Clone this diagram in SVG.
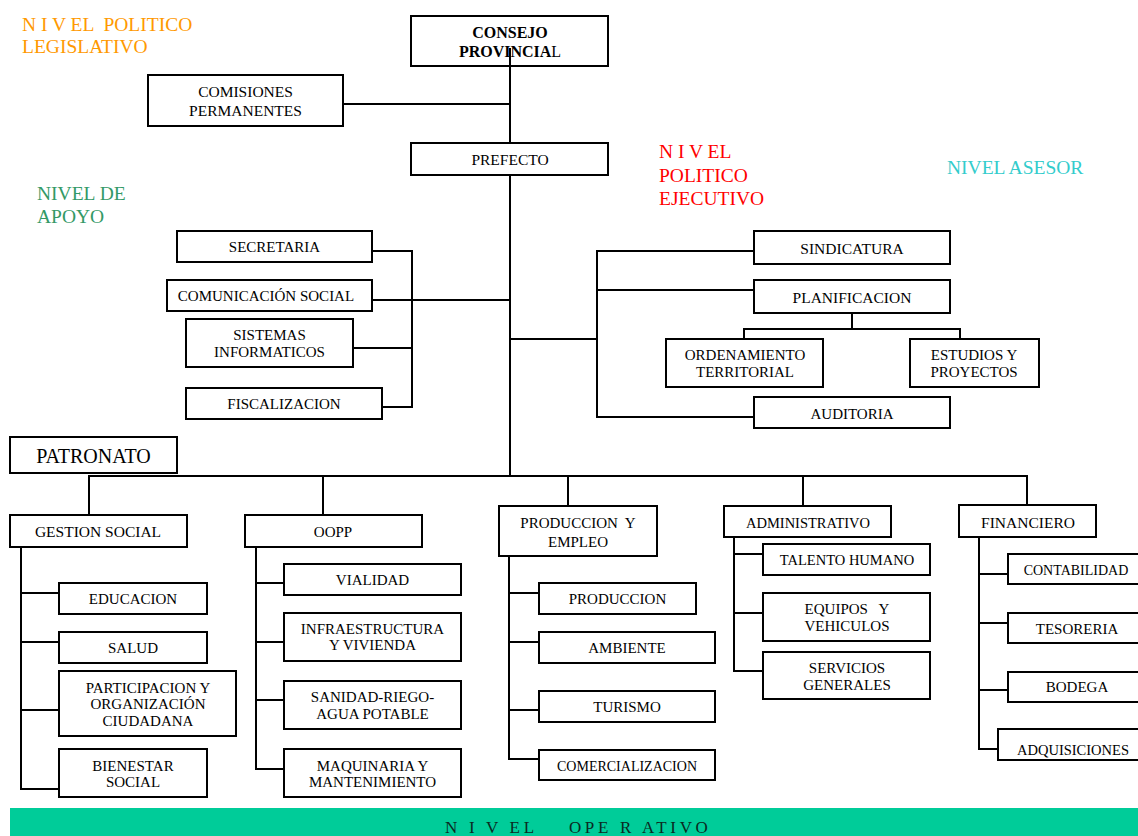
<svg xmlns="http://www.w3.org/2000/svg" width="1138" height="836" viewBox="0 0 1138 836">
<style>
.box{fill:#fff;stroke:#000;stroke-width:2}
.conn{fill:none;stroke:#000;stroke-width:2}
.t{font-family:"Liberation Serif","Times New Roman",serif;font-size:15px;text-anchor:middle;fill:#000}
.lvl{font-family:"Liberation Serif","Times New Roman",serif;font-size:19.5px;white-space:pre}
.pre{white-space:pre}
.s14{font-size:14px}
.s145{font-size:14.5px}
.s155{font-size:15.5px}
.s16{font-size:16px}
.s20{font-size:20px}
</style>
<rect width="1138" height="836" fill="#fff"/>
<g id="levels">
<text class="lvl" x="22" y="31" fill="#FF9900">N I V EL  POLITICO</text>
<text class="lvl" x="22" y="53" fill="#FF9900">LEGISLATIVO</text>
<text class="lvl" x="37" y="200" fill="#339966">NIVEL DE</text>
<text class="lvl" x="37" y="223" fill="#339966">APOYO</text>
<text class="lvl" x="659" y="158" fill="#FF0000">N I V EL</text>
<text class="lvl" x="659" y="182" fill="#FF0000">POLITICO</text>
<text class="lvl" x="659" y="205" fill="#FF0000">EJECUTIVO</text>
<text class="lvl" x="947" y="174" fill="#33CCCC">NIVEL ASESOR</text>
</g>
<g id="band">
<rect x="10" y="808" width="1130" height="28" fill="#00CC99"/>
<text class="lvl" x="445" y="833" fill="#0a2a22" style="font-size:17px;letter-spacing:3.7px">N I V EL    OPE R ATIVO</text>
</g>
<g id="consejo"><rect class="box" x="411" y="16" width="197" height="50"/><text class="t s16" x="510" y="38" font-weight="bold">CONSEJO</text><text class="t s16" x="510" y="57"><tspan font-weight="bold">PROVINCIA</tspan>L</text></g>
<g id="comisiones"><rect class="box" x="148" y="75" width="195" height="51"/><text class="t s155" x="245.5" y="97">COMISIONES</text><text class="t s155" x="245.5" y="116">PERMANENTES</text></g>
<g id="prefecto"><rect class="box" x="411" y="143" width="197" height="32"/><text class="t s155" x="510" y="165">PREFECTO</text></g>
<g id="secretaria"><rect class="box" x="177" y="231" width="195" height="31"/><text class="t" x="274.5" y="252">SECRETARIA</text></g>
<g id="comunicacion"><rect class="box" x="167" y="280" width="205" height="31"/><text class="t" x="266" y="301">COMUNICACIÓN SOCIAL</text></g>
<g id="sistemas"><rect class="box" x="186" y="319" width="167" height="48"/><text class="t" x="269.5" y="340">SISTEMAS</text><text class="t" x="269.5" y="357">INFORMATICOS</text></g>
<g id="fiscalizacion"><rect class="box" x="186" y="388" width="196" height="31"/><text class="t" x="284" y="409">FISCALIZACION</text></g>
<g id="sindicatura"><rect class="box" x="754" y="231" width="196" height="33"/><text class="t s155" x="852" y="254">SINDICATURA</text></g>
<g id="planificacion"><rect class="box" x="754" y="280" width="196" height="33"/><text class="t s155" x="852" y="303">PLANIFICACION</text></g>
<g id="ordenamiento"><rect class="box" x="666" y="339" width="157" height="48"/><text class="t" x="745" y="360">ORDENAMIENTO</text><text class="t" x="745" y="377">TERRITORIAL</text></g>
<g id="estudios"><rect class="box" x="910" y="339" width="129" height="48"/><text class="t" x="974" y="360">ESTUDIOS Y</text><text class="t" x="974" y="377">PROYECTOS</text></g>
<g id="auditoria"><rect class="box" x="754" y="397" width="196" height="31"/><text class="t" x="852" y="419">AUDITORIA</text></g>
<g id="patronato"><rect class="box" x="10" y="437" width="167" height="36"/><text class="t s20" x="93.5" y="463">PATRONATO</text></g>
<g id="gestion"><rect class="box" x="10" y="515" width="177" height="32"/><text class="t s155" x="98" y="537">GESTION SOCIAL</text></g>
<g id="oopp"><rect class="box" x="245" y="515" width="177" height="32"/><text class="t" x="333" y="537">OOPP</text></g>
<g id="educacion"><rect class="box" x="59" y="583" width="148" height="31"/><text class="t" x="133" y="604">EDUCACION</text></g>
<g id="salud"><rect class="box" x="59" y="632" width="148" height="31"/><text class="t" x="133" y="653">SALUD</text></g>
<g id="participacion"><rect class="box" x="59" y="671" width="177" height="65"/><text class="t" x="148" y="693">PARTICIPACION Y</text><text class="t" x="148" y="709">ORGANIZACIÓN</text><text class="t" x="148" y="726">CIUDADANA</text></g>
<g id="bienestar"><rect class="box" x="59" y="749" width="148" height="48"/><text class="t" x="133" y="771">BIENESTAR</text><text class="t" x="133" y="787">SOCIAL</text></g>
<g id="vialidad"><rect class="box" x="284" y="564" width="177" height="31"/><text class="t" x="372.5" y="585">VIALIDAD</text></g>
<g id="infraestructura"><rect class="box" x="284" y="613" width="177" height="48"/><text class="t" x="372.5" y="634">INFRAESTRUCTURA</text><text class="t" x="372.5" y="650">Y VIVIENDA</text></g>
<g id="sanidad"><rect class="box" x="284" y="681" width="177" height="48"/><text class="t" x="372.5" y="702">SANIDAD-RIEGO-</text><text class="t" x="372.5" y="719">AGUA POTABLE</text></g>
<g id="maquinaria"><rect class="box" x="284" y="749" width="177" height="48"/><text class="t" x="372.5" y="771">MAQUINARIA Y</text><text class="t" x="372.5" y="787">MANTENIMIENTO</text></g>
<g id="produccion-empleo"><rect class="box" x="499" y="506" width="158" height="50"/><text class="t pre" x="578" y="528">PRODUCCION  Y</text><text class="t" x="578" y="547">EMPLEO</text></g>
<g id="produccion"><rect class="box" x="539" y="583" width="157" height="31"/><text class="t" x="617.5" y="604">PRODUCCION</text></g>
<g id="ambiente"><rect class="box" x="539" y="632" width="176" height="31"/><text class="t" x="627" y="653">AMBIENTE</text></g>
<g id="turismo"><rect class="box" x="539" y="691" width="176" height="31"/><text class="t" x="627" y="712">TURISMO</text></g>
<g id="comercializacion"><rect class="box" x="539" y="750" width="176" height="30"/><text class="t s14" x="627" y="771">COMERCIALIZACION</text></g>
<g id="administrativo"><rect class="box" x="724" y="506" width="167" height="31"/><text class="t s145" x="808" y="528">ADMINISTRATIVO</text></g>
<g id="talento"><rect class="box" x="763" y="544" width="167" height="31"/><text class="t s145" x="847" y="565">TALENTO HUMANO</text></g>
<g id="equipos"><rect class="box" x="763" y="593" width="167" height="48"/><text class="t pre" x="847" y="614">EQUIPOS   Y</text><text class="t" x="847" y="631">VEHICULOS</text></g>
<g id="servicios"><rect class="box" x="763" y="652" width="167" height="47"/><text class="t" x="847" y="673">SERVICIOS</text><text class="t" x="847" y="690">GENERALES</text></g>
<g id="financiero"><rect class="box" x="959" y="505" width="137" height="32"/><text class="t s155" x="1028" y="528">FINANCIERO</text></g>
<g id="contabilidad"><rect class="box" x="1008" y="554" width="145" height="30"/><text class="t s14" x="1076" y="575">CONTABILIDAD</text></g>
<g id="tesoreria"><rect class="box" x="1008" y="613" width="145" height="30"/><text class="t" x="1077" y="634">TESORERIA</text></g>
<g id="bodega"><rect class="box" x="1008" y="672" width="145" height="30"/><text class="t" x="1077" y="692">BODEGA</text></g>
<g id="adquisiciones"><rect class="box" x="998" y="729" width="155" height="31"/><text class="t s145" x="1073" y="755">ADQUISICIONES</text></g>
<g id="connectors" class="conn">
<path d="M510,48 V143 M510,175 V476"/>
<path d="M343,104 H510"/>
<path d="M372,251 H412 V407 H382 M353,348 H412 M372,300 H510"/>
<path d="M510,339 H597 M754,251 H597 V417 H754 M597,290 H754"/>
<path d="M852,313 V329 M744,339 V329 H960 V339"/>
<path d="M89,515 V476 H1027 V505 M323,476 V515 M568,476 V506 M803,476 V506"/>
<path d="M21,547 V789 H59 M21,593 H59 M21,642 H59 M21,710 H59"/>
<path d="M256,547 V769 H284 M256,583 H284 M256,642 H284 M256,700 H284"/>
<path d="M509,556 V759 H539 M509,593 H539 M509,642 H539 M509,710 H539"/>
<path d="M734,537 V671 H763 M734,554 H763 M734,613 H763"/>
<path d="M979,537 V749 H998 M979,574 H1008 M979,623 H1008 M979,690 H1008"/>
</g>
</svg>
